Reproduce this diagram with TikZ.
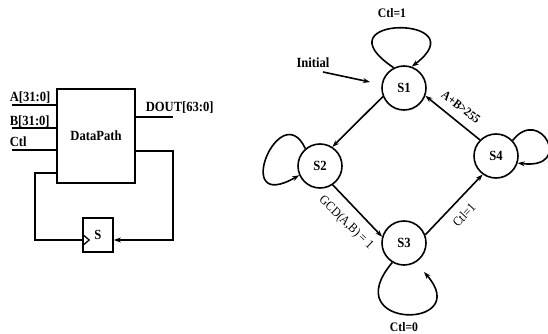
\documentclass[tikz,border=0pt]{standalone}
\usepackage{fontspec}
\setmainfont{Liberation Serif}[FakeStretch=0.9]
\usetikzlibrary{arrows.meta}
\begin{document}
\begin{tikzpicture}[x=1pt,y=-1pt, line width=1.6pt,
  >={Stealth[length=7pt,width=5pt]},
  big/.style={font=\bfseries\fontsize{14}{16}\selectfont, inner sep=0pt},
  mid/.style={font=\bfseries\fontsize{13}{15}\selectfont, inner sep=0pt},
  elab/.style={font=\fontsize{13}{15}\selectfont, inner sep=0pt},
  st/.style={circle, draw, minimum size=44pt, inner sep=0pt, font=\bfseries\fontsize{14}{16}\selectfont}]
\useasboundingbox (0,0) rectangle (548,334);

% ---------- data path ----------
\node[draw, minimum width=78pt, minimum height=94pt, inner sep=0pt, big] (dp) at (96,136) {DataPath};
\node[draw, minimum width=30pt, minimum height=34pt, inner sep=0pt, big] (s) at (98,235) {S};

\coordinate (inA) at (12,105);
\coordinate (inB) at (12,128);
\coordinate (inC) at (12,150);
\draw (inA) -- (dp.west |- inA);
\draw (inB) -- (dp.west |- inB);
\draw (inC) -- (dp.west |- inC);
\node[big, anchor=base west] (la) at (9,102) {A[31:0]};
\node[big, anchor=base west] (lb) at (9,125) {B[31:0]};
\node[big, anchor=base west] (lc) at (9,146) {Ctl};

\coordinate (dout) at (173,117);
\draw (dp.east |- dout) -- (dout);
\node[big, anchor=base west] (ld) at (145,112) {DOUT[63:0]};

\coordinate (fbR) at (173,151);
\coordinate (fbY) at (0,240);
\coordinate (fbL) at (35,173);
\draw[->] (dp.east |- fbR) -- (fbR) -- (fbR |- fbY) -- (s.east |- fbY);
\draw (dp.west |- fbL) -- (fbL) -- (fbL |- fbY) -- (s.west |- fbY);
\draw[line width=1.3pt] ([yshift=-6pt]s.west |- fbY) -- ([xshift=7pt]s.west |- fbY) -- ([yshift=6pt]s.west |- fbY);

% ---------- state machine ----------
\node[st] (s1) at (404,88) {S1};
\node[st] (s2) at (320,166) {S2};
\node[st] (s3) at (404,243) {S3};
\node[st] (s4) at (496,156) {S4};

\draw[->] (s1.202) -- (s2.57);
\draw[->] (s2.-56) -- (s3.164);
\draw[->] (s3.21) -- (s4.-126);
\draw[->] (s4.135) -- (s1.-20);

\node[big] (init) at (313,63) {Initial};
\coordinate (initA) at (323,72);
\coordinate (initB) at (370,82);
\draw[->] (initA) -- (initB);

\draw[->] (s1.117) .. controls (315,15) and (480,15) .. (s1.70);
\draw[->] (s2.130) .. controls (280,95) and (230,215) .. (s2.204);
\coordinate (s3e) at (424,272);
\draw[->] (s3.239) .. controls (335,330) and (475,330) .. (s3e);
\draw[->] (s4.43) .. controls (540,105) and (575,170) .. (s4.-18);

\node[mid] (c1) at (392,13) {Ctl=1};
\node[mid] (c0) at (404,327) {Ctl=0};
\node[mid, font=\bfseries\fontsize{12.5}{14}\selectfont, rotate=-38] (lab41) at (461,107) {A+B>255};
\node[elab, rotate=-44] (lab23) at (346,223) {GCD(A,B) = 1};
\node[elab, rotate=47] (lab34) at (464,215) {Ctl=1};
\end{tikzpicture}
\end{document}
